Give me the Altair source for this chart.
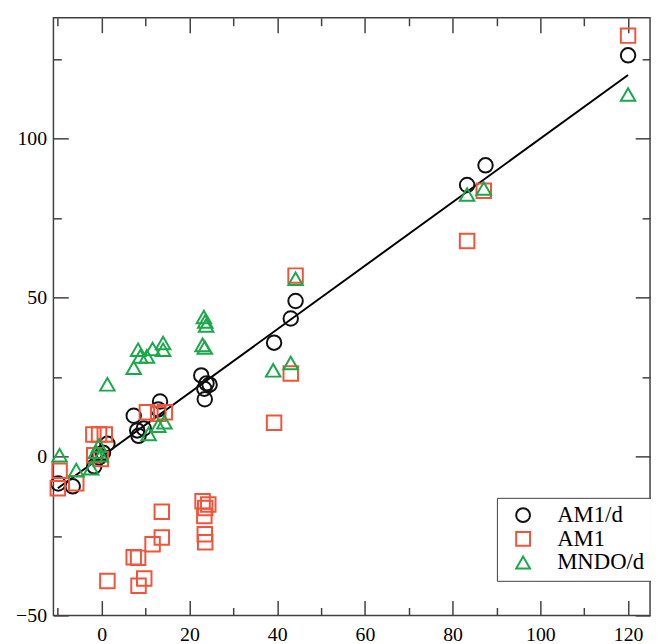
import altair as alt
import pandas as pd

series_names = ["AM1/d", "AM1", "MNDO/d"]
series_colors = ["#111111", "#F0543A", "#1BA84B"]
series_shapes = ["circle", "square", "M0,-0.87L1,0.87L-1,0.87Z"]

am1d_x = [-9.9, -6.6, -1.7, -0.6, 0.3, 1.3, 7.3, 8.1, 8.4, 9.6, 12.9, 13.3,
          22.7, 23.4, 23.9, 24.6, 23.5, 39.3, 43.1, 44.2, 83.3, 87.5, 120.0]
am1d_y = [-8.5, -9.4, -3.1, -0.3, 1.2, 4.0, 12.8, 8.2, 6.5, 8.8, 14.8, 17.3,
          25.5, 21.3, 23.0, 22.6, 18.0, 35.8, 43.4, 48.9, 85.4, 91.6, 126.2]

am1_x = [-10.0, -9.6, -5.8, -1.9, -0.6, 0.7, -1.7, -0.2, 10.3, 12.9, 14.4,
         13.7, 13.7, 11.6, 7.3, 8.3, 1.3, 9.7, 8.4,
         23.0, 24.3, 23.6, 23.4, 23.5, 23.6, 39.3, 43.1, 44.2, 83.3, 87.1, 120.0]
am1_y = [-10.0, -4.5, -8.4, 6.9, 6.9, 6.9, 0.4, -0.8, 13.9, 13.4, 13.9,
         -17.4, -25.5, -27.6, -31.7, -31.9, -39.2, -38.4, -40.7,
         -14.1, -15.1, -16.2, -18.7, -24.5, -27.0, 10.6, 26.1, 56.9, 67.8, 83.6, 132.4]

mndo_x = [-9.6, -5.8, -2.4, -1.3, -0.6, -0.2, 1.3, 7.3, 8.3, 8.8, 10.3, 11.6,
          14.0, 14.0, 10.7, 12.9, 14.3, 23.3, 23.6, 23.8, 23.0, 23.5, 39.1,
          43.1, 44.2, 83.3, 87.1, 120.0]
mndo_y = [0.4, -4.3, -3.7, 1.5, 3.5, 0.4, 22.7, 27.9, 33.6, 31.5, 31.5, 33.8,
          35.7, 33.6, 7.1, 9.7, 10.8, 43.9, 42.5, 41.2, 35.1, 34.3, 27.1,
          29.4, 55.9, 82.4, 84.3, 113.9]

fit_x = [-10, 120]
fit_y = [-10, 120]

x_major = [0, 20, 40, 60, 80, 100, 120]
x_minor = [-10, 10, 30, 50, 70, 90, 110]
y_major = [-50, 0, 50, 100]
y_minor = [-25, 25, 75, 125]

rows = []
for name, xs_, ys_ in zip(series_names, [am1d_x, am1_x, mndo_x], [am1d_y, am1_y, mndo_y]):
    for xv, yv in zip(xs_, ys_):
        rows.append({"x": xv, "y": yv, "method": name})
pts = pd.DataFrame(rows)
fit = pd.DataFrame({"x": fit_x, "y": fit_y})

W, H = 604, 605
FONT = "Liberation Serif"
AX = "#404040"

xsc = alt.Scale(domain=[-11, 125], nice=False, zero=False)
ysc = alt.Scale(domain=[-50, 138], nice=False, zero=False)


def tick_axis(orient, offset, values, size):
    return alt.Axis(orient=orient, offset=offset, values=values, tickSize=size,
                    tickWidth=1.5, tickColor=AX, labels=False, domain=False,
                    grid=False, title=None)


def tick_layer(mark, xorient, yorient, xv, yv, size):
    return alt.Chart(fit).mark_line(**mark).encode(
        x=alt.X("x:Q", scale=xsc, axis=tick_axis(xorient, -H, xv, size)),
        y=alt.Y("y:Q", scale=ysc, axis=tick_axis(yorient, -W, yv, size)),
    )


fit_layer = tick_layer({"color": "black", "strokeWidth": 2}, "top", "right", x_major, y_major, 15)
t2 = tick_layer({"opacity": 0}, "top", "right", x_minor, y_minor, 8)
t3 = tick_layer({"opacity": 0}, "bottom", "left", x_major, y_major, 15)
t4 = tick_layer({"opacity": 0}, "bottom", "left", x_minor, y_minor, 8)

legend = alt.Legend(title=None, orient="none", legendX=449, legendY=486,
                    strokeColor=AX, fillColor="white", padding=6,
                    labelFont=FONT, labelFontSize=23, labelColor="black",
                    symbolSize=196, symbolStrokeWidth=2, symbolOffset=9,
                    labelOffset=23, rowPadding=0)

points = alt.Chart(pts).mark_point(filled=False, size=215, strokeWidth=2, opacity=1).encode(
    x=alt.X("x:Q", scale=xsc,
            axis=alt.Axis(orient="bottom", values=x_major, ticks=False, tickSize=0,
                          domain=False, grid=False, labelFont=FONT, labelFontSize=20,
                          labelColor="black", labelPadding=9, title=None)),
    y=alt.Y("y:Q", scale=ysc,
            axis=alt.Axis(orient="left", values=y_major, ticks=False, tickSize=0,
                          domain=False, grid=False, labelFont=FONT, labelFontSize=20,
                          labelColor="black", labelPadding=7, title=None)),
    color=alt.Color("method:N", scale=alt.Scale(domain=series_names, range=series_colors),
                    legend=legend),
    shape=alt.Shape("method:N", scale=alt.Scale(domain=series_names, range=series_shapes),
                    legend=legend),
)

chart = alt.layer(fit_layer, t2, t3, t4, points).resolve_axis(
    x="independent", y="independent"
).properties(
    width=W, height=H,
    padding={"left": 46, "top": 6, "right": 1, "bottom": 25},
    autosize=alt.AutoSizeParams(type="none"),
    background="white",
).configure_view(stroke=AX, strokeWidth=1.5)

chart.save("out.html", embed_options={"renderer": "svg", "actions": False})
